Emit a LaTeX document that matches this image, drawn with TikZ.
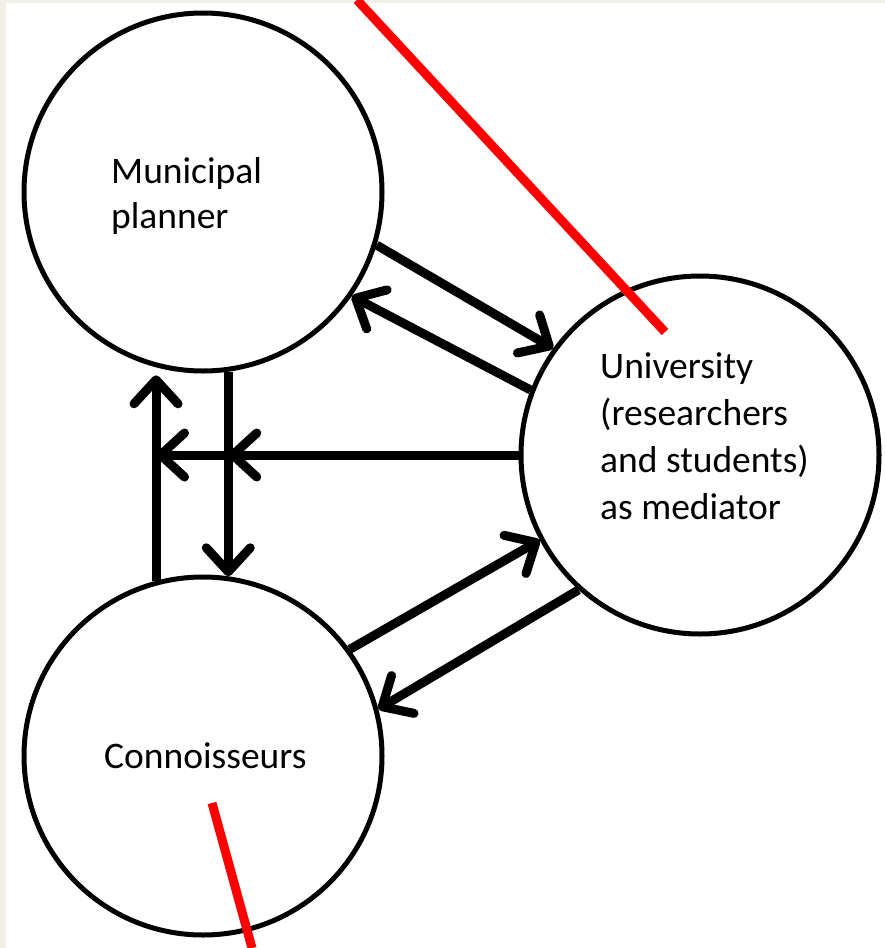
\documentclass[tikz,border=0pt]{standalone}
\usepackage{fontspec}
\setmainfont{Carlito}
\usepackage{tikz}
\usetikzlibrary{arrows.meta}
\definecolor{paper}{HTML}{F2EFE9}
\definecolor{marker}{HTML}{FF0000}

\begin{document}
\begin{tikzpicture}[x=1pt,y=-1pt]
\tikzset{actor/.style={circle,draw,line width=5pt,minimum size=358pt,inner sep=0pt}}
\tikzset{flow/.style={line width=9pt,-{Straight Barb[length=24pt,width=44pt,round]}}}
\tikzset{caption/.style={anchor=base west,align=left,inner sep=0pt,font=\fontsize{37.5}{46}\selectfont}}
\fill[paper] (0,0) rectangle (885,948);
\fill[white] (6,3) rectangle (885,948);
\useasboundingbox (0,0) rectangle (885,948);
\node[actor] (mun) at (203,192) {};
\node[actor] (uni) at (700,455) {};
\node[actor] (con) at (203,756) {};
\node[caption,font=\fontsize{37.5}{45}\selectfont] (munlbl) at (111,228) {Municipal\\planner};
\node[caption,font=\fontsize{37.5}{47}\selectfont] (unilbl) at (600,519) {University\\(researchers\\and students)\\as mediator};
\node[caption] (conlbl) at (104,768) {Connoisseurs};
\coordinate (upfoot) at (con.105.6);
\coordinate (downtop) at (mun.-82);
\draw[flow] (mun.-17.6) -- (uni.144);
\draw[flow] (uni.159) -- (mun.-35);
\draw[flow] (downtop) -- (con.82);
\draw[flow,shorten >=8pt] (upfoot) -- (mun.-105.6);
\draw[flow] (uni.west) -- (uni.west -| upfoot);
\draw[flow] (uni.west) -- (uni.west -| downtop);
\draw[flow] (con.36) -- (uni.208.5);
\draw[flow] (uni.228) -- (con.15);
\draw[marker,line width=9pt] (357,0) -- (665,332);
\draw[marker,line width=9pt] (212,803) -- (252,948);
\end{tikzpicture}
\end{document}
